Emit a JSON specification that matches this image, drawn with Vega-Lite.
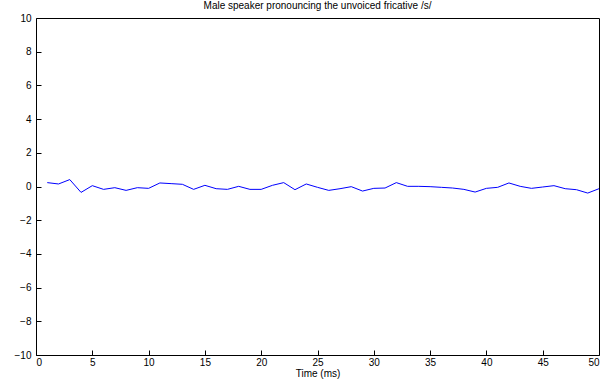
{
  "$schema": "https://vega.github.io/schema/vega-lite/v6.json",
  "width": 563,
  "height": 337,
  "autosize": {"type": "none"},
  "padding": {"left": 36, "top": 18, "right": 6, "bottom": 28},
  "background": "white",
  "config": {
    "font": "Liberation Sans",
    "view": {"stroke": "black", "strokeWidth": 1}
  },
  "title": {
    "text": "Male speaker pronouncing the unvoiced fricative /s/",
    "fontSize": 10,
    "fontWeight": "normal",
    "color": "black",
    "offset": 2
  },
  "data": {
    "values": [
      {"t": 1, "v": 0.23}, {"t": 2, "v": 0.15}, {"t": 3, "v": 0.41}, {"t": 4, "v": -0.35},
      {"t": 5, "v": 0.05}, {"t": 6, "v": -0.17}, {"t": 7, "v": -0.07}, {"t": 8, "v": -0.23},
      {"t": 9, "v": -0.07}, {"t": 10, "v": -0.11}, {"t": 11, "v": 0.21}, {"t": 12, "v": 0.17},
      {"t": 13, "v": 0.13}, {"t": 14, "v": -0.17}, {"t": 15, "v": 0.07}, {"t": 16, "v": -0.13},
      {"t": 17, "v": -0.17}, {"t": 18, "v": 0.01}, {"t": 19, "v": -0.17}, {"t": 20, "v": -0.17},
      {"t": 21, "v": 0.07}, {"t": 22, "v": 0.23}, {"t": 23, "v": -0.19}, {"t": 24, "v": 0.15},
      {"t": 25, "v": -0.05}, {"t": 26, "v": -0.23}, {"t": 27, "v": -0.13}, {"t": 28, "v": -0.01},
      {"t": 29, "v": -0.27}, {"t": 30, "v": -0.11}, {"t": 31, "v": -0.09}, {"t": 32, "v": 0.23},
      {"t": 33, "v": 0.01}, {"t": 34, "v": 0.01}, {"t": 35, "v": -0.01}, {"t": 36, "v": -0.05},
      {"t": 37, "v": -0.09}, {"t": 38, "v": -0.17}, {"t": 39, "v": -0.33}, {"t": 40, "v": -0.11},
      {"t": 41, "v": -0.05}, {"t": 42, "v": 0.21}, {"t": 43, "v": 0.01}, {"t": 44, "v": -0.11},
      {"t": 45, "v": -0.03}, {"t": 46, "v": 0.05}, {"t": 47, "v": -0.13}, {"t": 48, "v": -0.19},
      {"t": 49, "v": -0.39}, {"t": 50, "v": -0.13}
    ]
  },
  "mark": {"type": "line", "color": "#0000ff", "strokeWidth": 1},
  "encoding": {
    "x": {
      "field": "t", "type": "quantitative",
      "scale": {"domain": [0, 50]},
      "axis": {"values": [0, 5, 10, 15, 20, 25, 30, 35, 40, 45, 50], "title": "Time (ms)", "gridOpacity": 0, "domainOpacity": 0,
               "tickColor": "black", "tickWidth": 1, "tickSize": 5, "offset": -5, "labelPadding": 2,
               "labelColor": "black", "labelFontSize": 10, "titleColor": "black", "titleFontSize": 10, "titleFontWeight": "normal", "titlePadding": 1}
    },
    "y": {
      "field": "v", "type": "quantitative",
      "scale": {"domain": [-10, 10]},
      "axis": {"values": [-10, -8, -6, -4, -2, 0, 2, 4, 6, 8, 10], "title": null, "gridOpacity": 0, "domainOpacity": 0,
               "tickColor": "black", "tickWidth": 1, "tickSize": 5, "offset": -5, "labelPadding": 5,
               "labelColor": "black", "labelFontSize": 10, "labelExpr": "replace(datum.label, '-', '\u2212')"}
    }
  }
}
